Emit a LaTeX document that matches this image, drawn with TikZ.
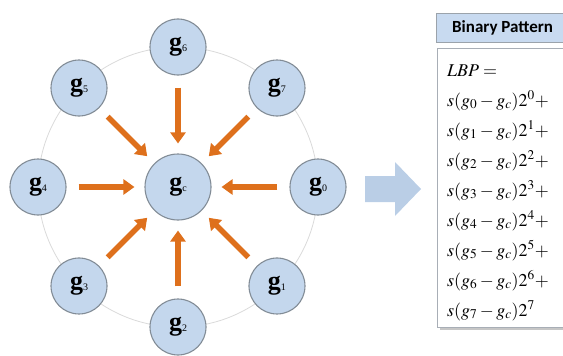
\documentclass[tikz,border=0pt]{standalone}
\usepackage{mathptmx}
\usepackage{fontspec}
\setmainfont{Liberation Serif}
\newfontfamily\headfont{Carlito}
\usetikzlibrary{arrows.meta,calc}
\definecolor{nodeblue}{RGB}{196,215,237}
\definecolor{nodeedge}{RGB}{130,140,150}
\definecolor{ringgray}{RGB}{218,218,218}
\definecolor{arrorange}{RGB}{222,112,28}
\definecolor{bigblue}{RGB}{186,206,230}
\definecolor{headblue}{RGB}{200,218,240}
\newcommand{\gname}[1]{{\fontsize{26}{26}\selectfont\bfseries g}{\fontsize{10}{10}\selectfont\raisebox{-0.5pt}{#1}}}
\begin{document}
\begin{tikzpicture}[x=1pt,y=-1pt,
  pixel/.style={circle, draw=nodeedge, fill=nodeblue, line width=1.1pt, minimum size=56pt, inner sep=0pt},
  toc/.style={draw=arrorange, line width=5.5pt, -{Triangle[length=11pt,width=15pt]}, shorten <=12pt, shorten >=10pt}]
\clip (0,0) rectangle (563,356);
% ring through the neighbour pixels
\draw[ringgray, line width=0.8pt] (178,187) circle (140);
% centre pixel
\node[pixel, minimum size=66pt] (gc) at (178,187) {\gname{c}};
% neighbour pixels, g0 on the right, going clockwise
\foreach \i in {0,...,7} {
  \node[pixel] (g\i) at ($(178,187)+(45*\i:140)$) {\gname{\i}};
  \draw[toc] (g\i) -- (gc);
}
% block arrow towards the pattern
\fill[bigblue] (365,176) -- (395,176) -- (395,162) -- (421,189) -- (395,216) -- (395,202) -- (365,202) -- cycle;
% header
\node[draw=nodeedge!80, fill=headblue, anchor=north west, minimum width=140pt, minimum height=29pt, inner sep=0pt] (hdr) at (436,13) {};
\node[anchor=west, inner sep=0pt] (hdrtext) at (452,28) {\headfont\bfseries\fontsize{17}{18}\selectfont Binary Pattern};
% formula box with shadow
\fill[gray!45] (440,51) rectangle (575,330);
\draw[nodeedge!70, fill=white, line width=0.8pt] (437,48) rectangle (575,327);
\node[anchor=north west, align=left, inner sep=0pt, font=\fontsize{18}{30}\selectfont] (lbp) at (447,64)
  {$\mathit{LBP} =$\\
   $s(g_0-g_c)2^0+$\\
   $s(g_1-g_c)2^1+$\\
   $s(g_2-g_c)2^2+$\\
   $s(g_3-g_c)2^3+$\\
   $s(g_4-g_c)2^4+$\\
   $s(g_5-g_c)2^5+$\\
   $s(g_6-g_c)2^6+$\\
   $s(g_7-g_c)2^7$};
\end{tikzpicture}
\end{document}
